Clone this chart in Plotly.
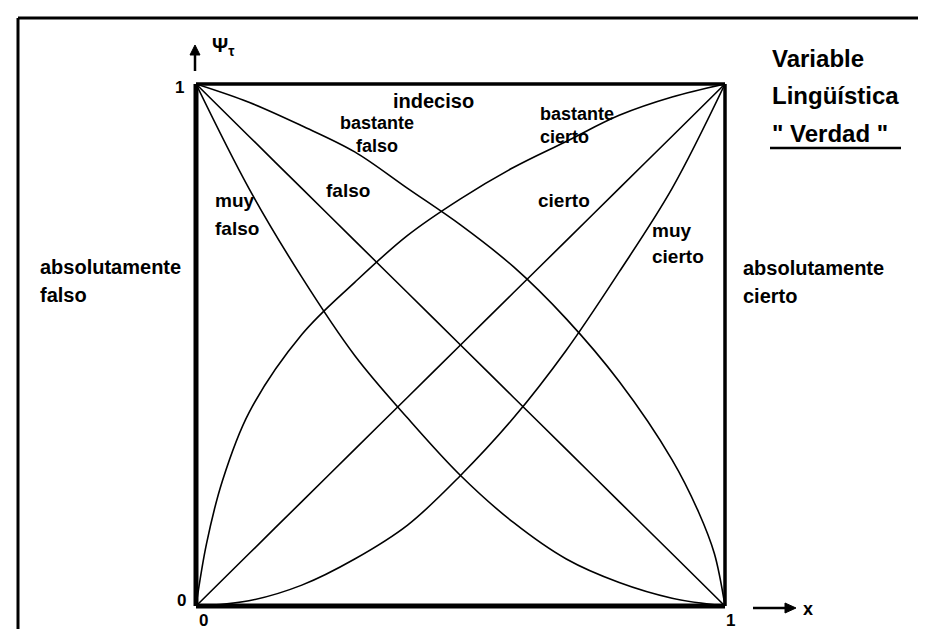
import plotly.graph_objects as go

# ---- data ----
x_grid = [0, 0.1, 0.2, 0.3, 0.4, 0.5, 0.6, 0.7, 0.8, 0.9, 1.0]
cierto = [0, 0.1, 0.2, 0.3, 0.4, 0.5, 0.6, 0.7, 0.8, 0.9, 1.0]
falso = [1.0, 0.9, 0.8, 0.7, 0.6, 0.5, 0.4, 0.3, 0.2, 0.1, 0]
muy_cierto = [0, 0.01, 0.04, 0.09, 0.155, 0.25, 0.36, 0.49, 0.64, 0.80, 1.0]
muy_falso = [1.0, 0.80, 0.63, 0.48, 0.36, 0.25, 0.16, 0.09, 0.045, 0.015, 0]

x_bc = [0, 0.02, 0.05, 0.1, 0.2, 0.3, 0.4, 0.5, 0.6, 0.7, 0.8, 0.9, 1.0]
bastante_cierto = [0, 0.12, 0.24, 0.37, 0.52, 0.62, 0.71, 0.78, 0.84, 0.89, 0.94, 0.975, 1.0]
x_bf = [0, 0.1, 0.2, 0.3, 0.4, 0.5, 0.6, 0.7, 0.8, 0.9, 0.95, 0.98, 1.0]
bastante_falso = [1.0, 0.965, 0.92, 0.87, 0.80, 0.73, 0.65, 0.55, 0.43, 0.28, 0.18, 0.10, 0]

W, H = 926, 629
L, R, T, B = 188, 717, 76, 598  # plot area in pixels


def px(x):
    return (x - L) / (R - L)


def py(y):
    return (B - y) / (B - T)


fig = go.Figure()
for xs, ys in [(x_grid, cierto), (x_grid, falso), (x_grid, muy_cierto), (x_grid, muy_falso),
               (x_bc, bastante_cierto), (x_bf, bastante_falso)]:
    fig.add_trace(go.Scatter(x=xs, y=ys, mode="lines", line=dict(color="black", width=1.6),
                             line_shape="spline", hoverinfo="skip", showlegend=False))

FONT = "Liberation Sans, Arial, sans-serif"
anns = []


def txt(s, x, y, size=19, xanchor="center", align="center"):
    anns.append(dict(text="<b>%s</b>" % s, x=px(x), y=py(y), xref="paper", yref="paper",
                     showarrow=False, xanchor=xanchor, yanchor="middle", align=align,
                     font=dict(family=FONT, size=size, color="black")))


txt("indeciso", 425, 93, size=20)
txt("bastante<br>falso", 369, 126, size=18)
txt("bastante<br>cierto", 530, 117, size=18, xanchor="left", align="left")
txt("falso", 340, 183)
txt("cierto", 556, 192)
txt("muy", 205, 192, xanchor="left")
txt("falso", 205, 220, xanchor="left")
txt("muy", 642, 222, xanchor="left")
txt("cierto", 642, 248, xanchor="left")
txt("absolutamente", 30, 259, size=20, xanchor="left")
txt("falso", 30, 287, size=20, xanchor="left")
txt("absolutamente", 733, 260, size=20, xanchor="left")
txt("cierto", 733, 288, size=20, xanchor="left")
txt("Variable", 762, 50, size=24, xanchor="left")
txt("Lingüística", 762, 88, size=24, xanchor="left")
txt("\" Verdad \"", 762, 125, size=24, xanchor="left")
txt("1", 171, 80, size=17)
txt("0", 173, 592, size=17)
txt("0", 195, 612, size=17)
txt("1", 722, 612, size=17)
txt("x", 800, 601, size=18)
anns.append(dict(text="<b>Ψ<sub>τ</sub></b>", x=px(202), y=py(38), xref="paper", yref="paper",
                 showarrow=False, xanchor="left", yanchor="middle",
                 font=dict(family=FONT, size=20, color="black")))

shapes = [
    # inner square
    dict(type="line", xref="paper", yref="paper", x0=0, y0=0, x1=0, y1=1, line=dict(color="black", width=5)),
    dict(type="line", xref="paper", yref="paper", x0=0, y0=0, x1=1, y1=0, line=dict(color="black", width=5)),
    dict(type="line", xref="paper", yref="paper", x0=0, y0=1, x1=1, y1=1, line=dict(color="black", width=3.5)),
    dict(type="line", xref="paper", yref="paper", x0=1, y0=0, x1=1, y1=1, line=dict(color="black", width=3.5)),
    # underline of "Verdad"
    dict(type="line", xref="paper", yref="paper", x0=px(762), y0=py(140), x1=px(893), y1=py(140),
         line=dict(color="black", width=2.5)),
    # outer frame
    dict(type="line", xref="paper", yref="paper", x0=px(10), y0=py(10), x1=px(921), y1=py(10),
         line=dict(color="black", width=3)),
    dict(type="line", xref="paper", yref="paper", x0=px(10), y0=py(10), x1=px(10), y1=py(640),
         line=dict(color="black", width=3)),
    dict(type="line", xref="paper", yref="paper", x0=px(921), y0=py(10), x1=px(921), y1=py(640),
         line=dict(color="black", width=3)),
    # y axis arrow
    dict(type="line", xref="paper", yref="paper", x0=px(187), y0=py(63), x1=px(187), y1=py(45),
         line=dict(color="black", width=2.5)),
    dict(type="path", xref="paper", yref="paper",
         path="M %f,%f L %f,%f L %f,%f Z" % (px(182), py(47), px(187), py(37), px(192), py(47)),
         fillcolor="black", line=dict(color="black", width=1)),
    # x axis arrow
    dict(type="line", xref="paper", yref="paper", x0=px(745), y0=py(600), x1=px(779), y1=py(600),
         line=dict(color="black", width=2.5)),
    dict(type="path", xref="paper", yref="paper",
         path="M %f,%f L %f,%f L %f,%f Z" % (px(777), py(595), px(788), py(600), px(777), py(605)),
         fillcolor="black", line=dict(color="black", width=1)),
]

fig.update_layout(
    width=W, height=H, margin=dict(l=L, r=W - R, t=T, b=H - B, pad=0),
    paper_bgcolor="white", plot_bgcolor="white",
    xaxis=dict(range=[0, 1], visible=False, fixedrange=True),
    yaxis=dict(range=[0, 1], visible=False, fixedrange=True),
    annotations=anns, shapes=shapes, showlegend=False,
)
fig.write_html("out.html")
